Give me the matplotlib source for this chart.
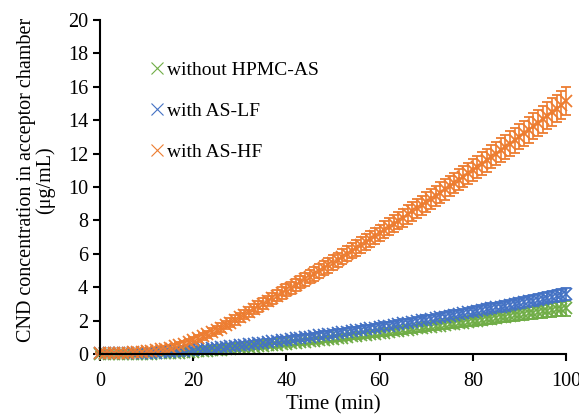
import matplotlib
matplotlib.use("Agg")
import matplotlib.pyplot as plt
from matplotlib.lines import Line2D

plt.rcParams['font.family'] = ['Liberation Serif', 'DejaVu Serif']

# time points (min)
t = list(range(0, 101))

# without HPMC-AS
green = [0.00, 0.00, 0.00, 0.00, 0.00, 0.00, 0.00, 0.00, 0.01, 0.01,
         0.02, 0.02, 0.03, 0.04, 0.05, 0.06, 0.07, 0.08, 0.10, 0.11,
         0.13, 0.15, 0.17, 0.19, 0.21, 0.23, 0.26, 0.28, 0.31, 0.33,
         0.36, 0.38, 0.41, 0.43, 0.46, 0.48, 0.51, 0.53, 0.56, 0.58,
         0.61, 0.64, 0.67, 0.70, 0.73, 0.76, 0.79, 0.82, 0.85, 0.88,
         0.92, 0.95, 0.98, 1.01, 1.05, 1.08, 1.11, 1.14, 1.18, 1.21,
         1.25, 1.28, 1.32, 1.35, 1.39, 1.42, 1.46, 1.49, 1.53, 1.56,
         1.60, 1.63, 1.67, 1.70, 1.74, 1.77, 1.81, 1.84, 1.88, 1.91,
         1.95, 1.99, 2.03, 2.07, 2.11, 2.15, 2.19, 2.23, 2.27, 2.31,
         2.35, 2.39, 2.43, 2.47, 2.51, 2.55, 2.59, 2.63, 2.67, 2.71, 2.75]
green_sd = [0.02, 0.02, 0.02, 0.02, 0.02, 0.02, 0.02, 0.02, 0.03, 0.03,
            0.03, 0.03, 0.04, 0.04, 0.04, 0.05, 0.05, 0.05, 0.06, 0.06,
            0.06, 0.07, 0.07, 0.07, 0.08, 0.08, 0.08, 0.09, 0.09, 0.09,
            0.10, 0.10, 0.10, 0.11, 0.11, 0.11, 0.12, 0.12, 0.12, 0.13,
            0.13, 0.13, 0.13, 0.14, 0.14, 0.14, 0.15, 0.15, 0.15, 0.15,
            0.16, 0.16, 0.16, 0.17, 0.17, 0.17, 0.17, 0.18, 0.18, 0.18,
            0.19, 0.19, 0.19, 0.20, 0.20, 0.20, 0.21, 0.21, 0.21, 0.22,
            0.22, 0.22, 0.23, 0.23, 0.24, 0.24, 0.25, 0.25, 0.26, 0.26,
            0.27, 0.27, 0.28, 0.28, 0.29, 0.30, 0.30, 0.31, 0.32, 0.33,
            0.34, 0.35, 0.36, 0.37, 0.38, 0.39, 0.40, 0.41, 0.42, 0.43, 0.45]

# with AS-LF
blue = [0.05, 0.05, 0.05, 0.05, 0.04, 0.04, 0.03, 0.03, 0.03, 0.04,
        0.05, 0.06, 0.08, 0.10, 0.12, 0.14, 0.16, 0.18, 0.20, 0.22,
        0.25, 0.27, 0.30, 0.32, 0.35, 0.38, 0.41, 0.44, 0.47, 0.50,
        0.53, 0.56, 0.59, 0.62, 0.65, 0.68, 0.72, 0.75, 0.79, 0.82,
        0.86, 0.89, 0.93, 0.96, 1.00, 1.03, 1.07, 1.11, 1.15, 1.18,
        1.22, 1.26, 1.30, 1.34, 1.38, 1.42, 1.46, 1.50, 1.54, 1.58,
        1.62, 1.66, 1.70, 1.74, 1.79, 1.83, 1.88, 1.92, 1.97, 2.01,
        2.06, 2.10, 2.15, 2.19, 2.24, 2.29, 2.34, 2.39, 2.44, 2.49,
        2.54, 2.59, 2.64, 2.69, 2.74, 2.79, 2.84, 2.89, 2.94, 2.99,
        3.04, 3.09, 3.15, 3.20, 3.26, 3.31, 3.37, 3.42, 3.48, 3.54, 3.60]
blue_sd = [0.05, 0.05, 0.05, 0.05, 0.05, 0.05, 0.05, 0.05, 0.05, 0.05,
           0.06, 0.06, 0.07, 0.07, 0.08, 0.08, 0.09, 0.09, 0.10, 0.10,
           0.11, 0.11, 0.12, 0.12, 0.12, 0.13, 0.13, 0.13, 0.14, 0.14,
           0.14, 0.15, 0.15, 0.15, 0.16, 0.16, 0.16, 0.17, 0.17, 0.17,
           0.18, 0.18, 0.18, 0.19, 0.19, 0.19, 0.19, 0.20, 0.20, 0.20,
           0.20, 0.21, 0.21, 0.21, 0.21, 0.22, 0.22, 0.22, 0.22, 0.22,
           0.23, 0.23, 0.23, 0.23, 0.24, 0.24, 0.24, 0.24, 0.25, 0.25,
           0.25, 0.25, 0.26, 0.26, 0.26, 0.26, 0.27, 0.27, 0.27, 0.27,
           0.28, 0.28, 0.28, 0.29, 0.29, 0.29, 0.30, 0.30, 0.30, 0.31,
           0.31, 0.31, 0.32, 0.32, 0.32, 0.33, 0.33, 0.33, 0.34, 0.34, 0.35]

# with AS-HF
orange = [0.05, 0.05, 0.05, 0.05, 0.06, 0.07, 0.08, 0.09, 0.10, 0.12,
          0.15, 0.18, 0.22, 0.27, 0.32, 0.38, 0.45, 0.53, 0.62, 0.72,
          0.82, 0.93, 1.05, 1.17, 1.30, 1.44, 1.58, 1.73, 1.88, 2.04,
          2.20, 2.36, 2.52, 2.68, 2.85, 3.01, 3.18, 3.34, 3.50, 3.66,
          3.82, 3.98, 4.15, 4.31, 4.47, 4.63, 4.80, 4.96, 5.13, 5.30,
          5.47, 5.64, 5.82, 5.99, 6.17, 6.35, 6.53, 6.70, 6.88, 7.06,
          7.25, 7.43, 7.62, 7.80, 7.99, 8.17, 8.36, 8.54, 8.73, 8.91,
          9.10, 9.29, 9.48, 9.67, 9.86, 10.05, 10.24, 10.43, 10.62, 10.81,
          11.00, 11.20, 11.40, 11.60, 11.80, 12.00, 12.20, 12.40, 12.60, 12.80,
          13.00, 13.21, 13.42, 13.63, 13.84, 14.05, 14.26, 14.48, 14.70, 14.92, 15.15]
orange_sd = [0.05, 0.05, 0.05, 0.05, 0.05, 0.06, 0.06, 0.07, 0.07, 0.08,
             0.09, 0.10, 0.11, 0.12, 0.13, 0.14, 0.15, 0.16, 0.17, 0.18,
             0.20, 0.21, 0.22, 0.23, 0.24, 0.25, 0.26, 0.26, 0.27, 0.28,
             0.28, 0.29, 0.30, 0.30, 0.31, 0.32, 0.32, 0.33, 0.34, 0.34,
             0.35, 0.36, 0.36, 0.37, 0.38, 0.39, 0.40, 0.40, 0.41, 0.42,
             0.43, 0.43, 0.44, 0.45, 0.45, 0.46, 0.47, 0.48, 0.48, 0.49,
             0.50, 0.51, 0.51, 0.52, 0.53, 0.54, 0.55, 0.55, 0.56, 0.57,
             0.58, 0.58, 0.59, 0.60, 0.61, 0.61, 0.62, 0.63, 0.64, 0.64,
             0.65, 0.66, 0.67, 0.68, 0.69, 0.70, 0.71, 0.72, 0.73, 0.74,
             0.75, 0.76, 0.77, 0.78, 0.79, 0.80, 0.81, 0.82, 0.83, 0.84, 0.85]

series = [
    ("without HPMC-AS", green, green_sd, "#70AD47"),
    ("with AS-LF", blue, blue_sd, "#4472C4"),
    ("with AS-HF", orange, orange_sd, "#ED7D31"),
]

fig = plt.figure(figsize=(5.79, 4.19), dpi=100)
ax = fig.add_axes([100 / 579, 65 / 419, 466 / 579, 334 / 419])

handles = []
for name, y, sd, c in series:
    ax.errorbar(t, y, yerr=sd, fmt="x", color=c, ecolor=c, markersize=9, mew=1.3,
                elinewidth=1.2, capsize=3.5, capthick=1.2, clip_on=False)
    handles.append(Line2D([], [], ls="none", marker="x", color=c, markersize=8, mew=0.8, label=name))

ax.set_xlim(0, 100)
ax.set_ylim(0, 20)
ax.set_xticks(range(0, 101, 20))
ax.set_yticks(range(0, 21, 2))
for s in ("top", "right"):
    ax.spines[s].set_visible(False)
for s in ("left", "bottom"):
    ax.spines[s].set_linewidth(1.5)
ax.tick_params(direction="out", length=5, width=1.5, labelsize=14.5, colors="black")
ax.tick_params(axis="x", pad=8)
ax.set_xlabel("Time (min)", fontsize=15, labelpad=3)
ax.set_ylabel("CND concentration in acceptor chamber\n(μg/mL)", fontsize=14.5, linespacing=0.95)
ax.yaxis.set_label_coords(-0.097, 0.52)

ax.legend(handles=handles, loc="upper left", bbox_to_anchor=(0.09, 0.90), frameon=False,
          fontsize=14, handlelength=0.7, handletextpad=0.2, labelspacing=1.2,
          borderaxespad=0)

fig.savefig("out.png", dpi=100)
